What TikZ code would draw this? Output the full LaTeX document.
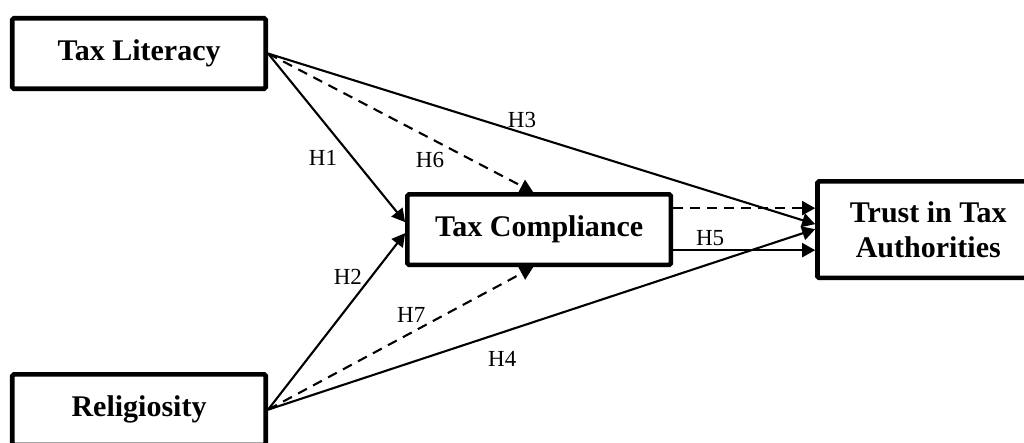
\documentclass[tikz,border=0pt]{standalone}
\usepackage{fontspec}
\setmainfont{Liberation Serif}
\usepackage{tikz}
\usetikzlibrary{arrows.meta,positioning}
\tikzstyle{block} = [draw, line width=2.3pt, rectangle, rounded corners=0.8pt,
    font=\fontsize{15}{17.4}\selectfont\bfseries, align=center,
    minimum height=35.25pt, minimum width=126.75pt]
\tikzstyle{link} = [line width=1.05pt]
\tikzstyle{hyp} = [font=\fontsize{11.5}{12}\selectfont, inner sep=0pt]

\begin{document}
\begin{tikzpicture}[>={Triangle[length=6.5pt,width=7pt]}]
    % the four constructs
    \node [block] (lit) {Tax Literacy};
    \node [block, below right=50.5pt and 68.5pt of lit, minimum width=131.75pt] (comp) {Tax Compliance};
    \node [block, right=71pt of comp, minimum width=110.75pt, minimum height=48.25pt] (trust) {Trust in Tax\\Authorities};
    \node [block, below=140.5pt of lit] (rel) {Religiosity};
    % direct paths into the mediator
    \draw [link,->] (lit.east) -- node[hyp, pos=.62, xshift=-15pt] {H1} ([yshift=3.75pt]comp.west);
    \draw [link,->] (rel.east) -- node[hyp, pos=.75, xshift=-11.5pt] {H2} ([yshift=-1.75pt]comp.west);
    % direct paths into trust
    \draw [link,->] (lit.east) -- node[hyp, pos=.464, yshift=6.5pt] {H3} ([yshift=2.75pt]trust.west);
    \draw [link,->] (rel.east) -- node[hyp, pos=.428, yshift=-13.5pt] {H4} ([yshift=0.25pt]trust.west);
    \draw [link,->] ([yshift=-10.25pt]comp.east) coordinate (h5) -- node[hyp, pos=.26, yshift=6pt] {H5} (h5 -| trust.west);
    % mediated (dashed) paths
    \draw [link,->,dash pattern=on 5pt off 3.5pt] (lit.east) -- node[hyp, pos=.611, yshift=-11pt] {H6} ([xshift=-3pt]comp.north);
    \draw [link,->,dash pattern=on 5pt off 3.5pt] (rel.east) -- node[hyp, pos=.555, xshift=-2pt, yshift=8pt] {H7} ([xshift=-3pt]comp.south);
    \draw [link,->,dash pattern=on 5pt off 3.5pt] ([yshift=10.75pt]comp.east) coordinate (med) -- (med -| trust.west);
    % crop as in the original figure
    \pgfresetboundingbox
    \useasboundingbox ([xshift=-5pt,yshift=8pt]lit.north west) rectangle ++(512pt,-221.5pt);
\end{tikzpicture}
\end{document}
